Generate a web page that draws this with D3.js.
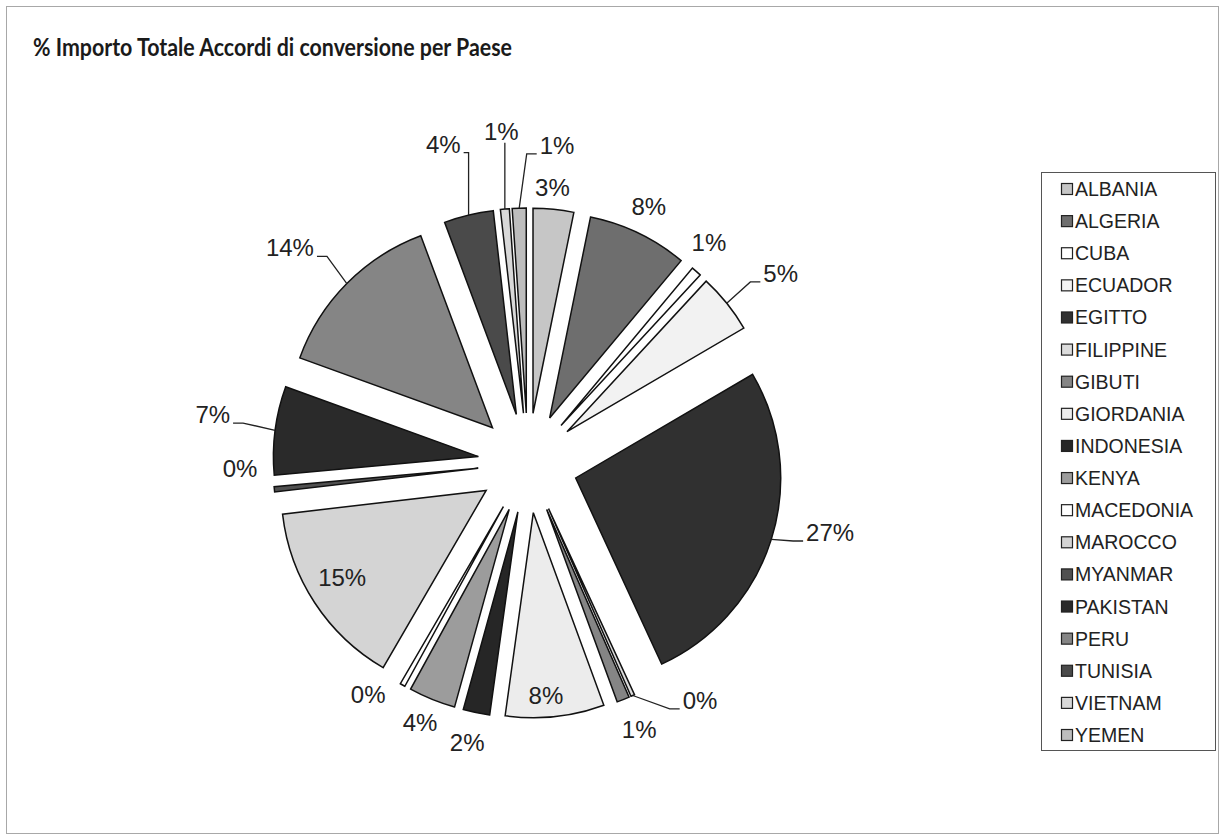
<!DOCTYPE html>
<meta charset="utf-8">
<head>
    <script src="https://d3js.org/d3.v7.min.js"></script>
    <title>% Importo Totale Accordi di conversione per Paese</title>
</head>
<body>
    <div id="chart"></div>
</body>
<style>
    body {
        margin: 0;
        background: #fff;
    }
    .lbl {
        font-family: "Liberation Sans", Arial, sans-serif;
        font-size: 24px;
        fill: #222;
    }
    .leg {
        font-family: "Liberation Sans", Arial, sans-serif;
        font-size: 19.5px;
        fill: #222;
    }
</style>
<script>
    // data (share of total, in %)
    var countries = ["ALBANIA", "ALGERIA", "CUBA", "ECUADOR", "EGITTO", "FILIPPINE", "GIBUTI",
        "GIORDANIA", "INDONESIA", "KENYA", "MACEDONIA", "MAROCCO", "MYANMAR", "PAKISTAN",
        "PERU", "TUNISIA", "VIETNAM", "YEMEN"];
    var values = [3.2, 7.9, 0.8, 4.7, 26.6, 0.3, 1.0, 7.8, 2.1, 3.7, 0.4, 14.8, 0.4, 7.0, 13.8, 3.9, 0.7, 1.1];

    // grey fills, one per country
    var fills = ["#c6c6c6", "#6e6e6e", "#ffffff", "#f2f2f2", "#303030", "#dcdcdc", "#858585",
        "#ececec", "#262626", "#9c9c9c", "#ffffff", "#d4d4d4", "#505050", "#2a2a2a",
        "#858585", "#4a4a4a", "#d8d8d8", "#bdbdbd"];

    // label placement: angle nudge (deg) from slice middle, distance from pie centre, leader line
    var labelShift = [-0.7, -0.5, -1.9, 1.9, -4.5, -11.7, -0.7, 1.7, 0.6, 0.5, 5.2, 1.7, 4.9, 1.4, -2.6, -1.4, 0.6, 7.2];
    var labelDist = [277, 284, 285, 316, 310, 293, 289, 233, 286, 281, 281, 218, 288, 319, 321, 330, 333, 319];
    var hasLeader = [0, 0, 0, 1, 1, 1, 0, 0, 0, 0, 0, 0, 0, 1, 1, 1, 1, 1];

    var W = 1226, H = 837;
    var cx = 528, cy = 463, radius = 205, explode = 50;

    var svg = d3.select("#chart")
        .append("svg")
        .attr("width", W)
        .attr("height", H);

    // chart frame
    svg.append("rect")
        .attr("x", 6.5).attr("y", 6.5)
        .attr("width", 1212).attr("height", 827)
        .attr("fill", "none")
        .attr("stroke", "#a8a8a8");

    // title
    svg.append("text")
        .attr("x", 33)
        .attr("y", 56)
        .attr("textLength", 479)
        .attr("lengthAdjust", "spacingAndGlyphs")
        .style("font-family", "Lato, 'Open Sans', sans-serif")
        .style("font-weight", 700)
        .style("font-size", "24.5px")
        .style("fill", "#1a1a1a")
        .text("% Importo Totale Accordi di conversione per Paese");

    var table = countries.map(function (c, i) {
        return { name: c, value: values[i], i: i };
    });
    var total = d3.sum(values);
    var pct = d3.format(".0%");

    var pie = d3.pie()
        .sort(null)
        .value(function (d) { return d.value; });
    var arcs = pie(table);

    var arc = d3.arc()
        .innerRadius(0)
        .outerRadius(radius);

    function polar(a, r) {
        return [r * Math.sin(a), -r * Math.cos(a)];
    }

    var g = svg.append("g")
        .attr("transform", "translate(" + cx + "," + cy + ")");

    // exploded slices
    g.selectAll("path.slice")
        .data(arcs)
        .enter()
        .append("path")
        .attr("class", "slice")
        .attr("transform", function (d) {
            var p = polar((d.startAngle + d.endAngle) / 2, explode);
            return "translate(" + p[0] + "," + p[1] + ")";
        })
        .attr("d", arc)
        .attr("fill", function (d) { return fills[d.data.i]; })
        .attr("stroke", "#111")
        .attr("stroke-width", 1.5)
        .attr("stroke-linejoin", "miter");

    // data labels
    var labels = g.selectAll("text.lbl")
        .data(arcs)
        .enter()
        .append("text")
        .attr("class", "lbl")
        .attr("text-anchor", "middle")
        .attr("dominant-baseline", "central")
        .each(function (d) {
            var i = d.data.i;
            var a = (d.startAngle + d.endAngle) / 2 + labelShift[i] * Math.PI / 180;
            var p = polar(a, labelDist[i]);
            d.lx = p[0];
            d.ly = p[1];
        })
        .attr("x", function (d) { return d.lx; })
        .attr("y", function (d) { return d.ly; })
        .text(function (d) { return pct(d.data.value / total); });

    // leader lines
    labels.each(function (d) {
        if (!hasLeader[d.data.i]) return;
        var mid = (d.startAngle + d.endAngle) / 2;
        var o = polar(mid, explode);
        var q = polar(mid, radius);
        var P = [o[0] + q[0], o[1] + q[1]];
        var bb = this.getBBox();
        var bottom = d.ly + 24 * 0.36;
        var A, E;
        if (P[0] > bb.x + bb.width) {
            A = [bb.x + bb.width + 3, bottom];
            E = [Math.min(A[0] + 10, P[0]), bottom];
        } else if (P[0] < bb.x) {
            A = [bb.x - 3, bottom];
            E = [Math.max(A[0] - 10, P[0]), bottom];
        } else {
            A = [P[0], bottom + 3];
            E = A;
        }
        g.append("path")
            .attr("d", d3.line()([P, E, A]))
            .attr("fill", "none")
            .attr("stroke", "#222")
            .attr("stroke-width", 1.3);
    });

    // legend
    var legX = 1041, legY = 172, legW = 174, legH = 578;
    svg.append("rect")
        .attr("x", legX + 0.5).attr("y", legY + 0.5)
        .attr("width", legW).attr("height", legH)
        .attr("fill", "#fff")
        .attr("stroke", "#555");

    var ly = d3.scalePoint()
        .domain(countries)
        .range([189, 735]);

    var item = svg.selectAll("g.legitem")
        .data(table)
        .enter()
        .append("g")
        .attr("class", "legitem")
        .attr("transform", function (d) { return "translate(0," + ly(d.name) + ")"; });

    item.append("rect")
        .attr("x", 1061.5).attr("y", -5.5)
        .attr("width", 11).attr("height", 11)
        .attr("fill", function (d) { return fills[d.i]; })
        .attr("stroke", "#222")
        .attr("stroke-width", 1.2);

    item.append("text")
        .attr("class", "leg")
        .attr("x", 1075)
        .attr("y", 0)
        .attr("dominant-baseline", "central")
        .text(function (d) { return d.name; });
</script>
